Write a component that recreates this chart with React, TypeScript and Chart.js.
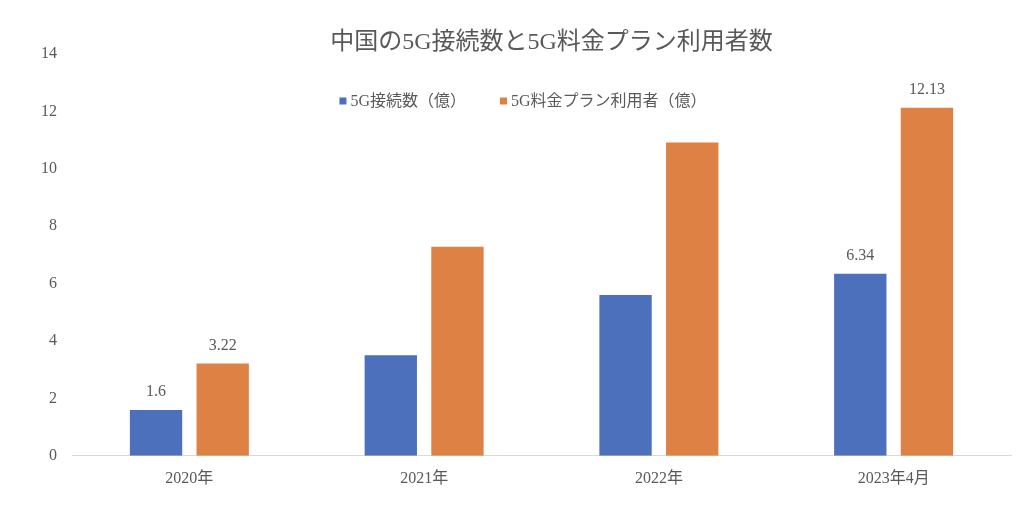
import React, { useEffect, useRef } from 'react';
import { Chart, registerables } from 'chart.js';

Chart.register(...registerables);

const titleText = '中国の5G接続数と5G料金プラン利用者数';
const categories = ['2020年', '2021年', '2022年', '2023年4月'];
const connections = [1.6, 3.5, 5.6, 6.34];
const planUsers = [3.22, 7.28, 10.92, 12.13];
const seriesLabels = ['5G接続数（億）', '5G料金プラン利用者（億）'];
const seriesColors = ['#4D70BD', '#DD8244'];
const labeledIndices = [0, 3];
const yMin = 0;
const yMax = 14;
const yStep = 2;

const FONT = "'Liberation Serif', 'Noto Sans CJK JP', serif";
const TEXT = '#595959';

const overlayPlugin = {
  id: 'overlay',
  afterDatasetsDraw(chart: any) {
    const ctx = chart.ctx as CanvasRenderingContext2D;
    const area = chart.chartArea;
    ctx.save();
    // data labels
    ctx.fillStyle = TEXT;
    ctx.font = `16px ${FONT}`;
    ctx.textAlign = 'center';
    ctx.textBaseline = 'middle';
    chart.data.datasets.forEach((ds: any, di: number) => {
      const meta = chart.getDatasetMeta(di);
      labeledIndices.forEach((i) => {
        const el = meta.data[i];
        if (!el) return;
        ctx.fillText(String(ds.data[i]), el.x, el.y - 18);
      });
    });
    // title
    ctx.font = `24px ${FONT}`;
    ctx.fillText(titleText, (area.left + area.right) / 2 + 10, 43);
    // legend
    ctx.font = `16px ${FONT}`;
    const box = 7;
    const gapBox = 4;
    const gapItem = 34;
    const widths = chart.data.datasets.map((d: any) => ctx.measureText(d.label).width);
    const total = widths.reduce((a: number, w: number) => a + box + gapBox + w, 0) + gapItem * (widths.length - 1);
    let x = 523 - total / 2;
    const y = 101;
    ctx.textAlign = 'left';
    chart.data.datasets.forEach((d: any, i: number) => {
      ctx.fillStyle = d.backgroundColor;
      ctx.fillRect(x, y - box / 2, box, box);
      x += box + gapBox;
      ctx.fillStyle = TEXT;
      ctx.fillText(d.label, x, y + 1);
      x += widths[i] + gapItem;
    });
    ctx.restore();
  },
};

export default function App() {
  const ref = useRef<HTMLCanvasElement>(null);
  useEffect(() => {
    if (!ref.current) return;
    const chart = new Chart(ref.current, {
      type: 'bar',
      data: {
        labels: categories,
        datasets: [
          { label: seriesLabels[0], data: connections, backgroundColor: seriesColors[0] },
          { label: seriesLabels[1], data: planUsers, backgroundColor: seriesColors[1] },
        ],
      },
      options: {
        animation: false,
        responsive: false,
        maintainAspectRatio: false,
        layout: { padding: { top: 54, left: 26, right: 13, bottom: 21 } },
        datasets: { bar: { categoryPercentage: 0.568, barPercentage: 0.785 } },
        plugins: {
          legend: { display: false },
          title: { display: false },
          tooltip: { enabled: false },
        },
        scales: {
          x: {
            grid: { display: false, drawTicks: false },
            border: { display: true, color: '#D9D9D9', width: 1 },
            ticks: { color: TEXT, font: { family: FONT, size: 16 }, padding: 13 },
          },
          y: {
            min: yMin,
            max: yMax,
            grid: { display: false, drawTicks: false },
            border: { display: false },
            ticks: { stepSize: yStep, color: TEXT, font: { family: FONT, size: 16 }, padding: 15 },
          },
        },
      },
      plugins: [overlayPlugin],
    });
    return () => chart.destroy();
  }, []);
  return (
    <div style={{ position: 'fixed', left: 0, top: 0, width: 1024, height: 522, background: '#fff' }}>
      <canvas ref={ref} width={1024} height={522} style={{ width: 1024, height: 522 }} />
    </div>
  );
}
